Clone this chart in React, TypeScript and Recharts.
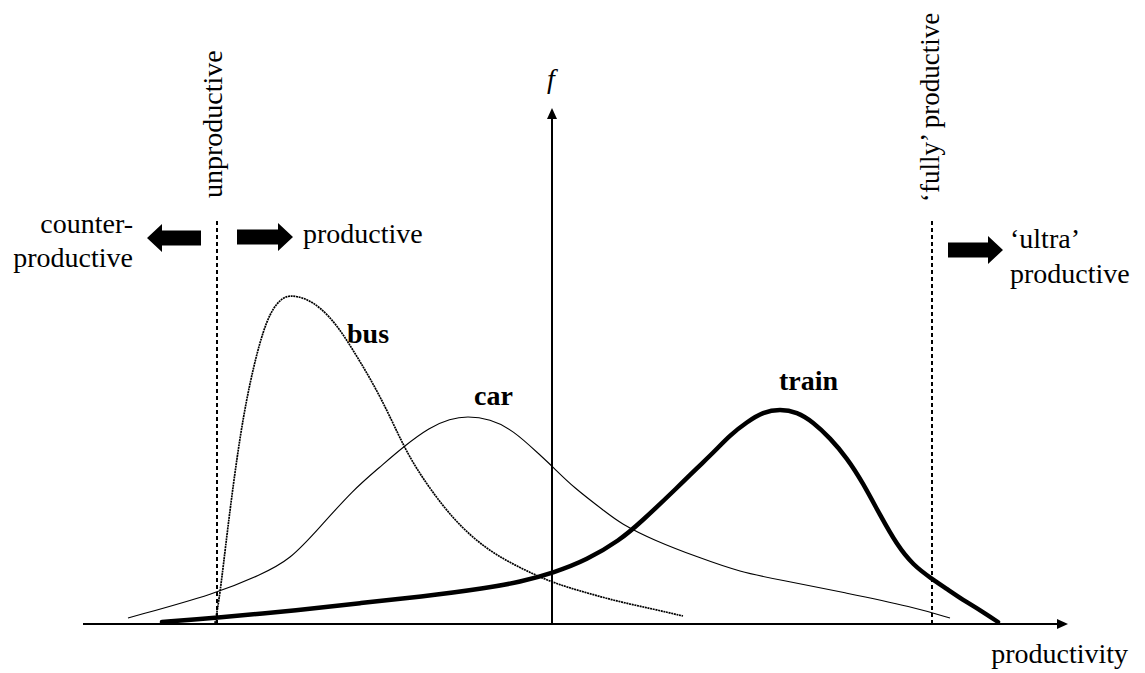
import React from "react";
import { LineChart, Line, XAxis, YAxis, ReferenceLine, ReferenceDot } from "recharts";

// productivity (p, relative to the f axis) against frequency f
const busPoints = [
  { p: -3.37, f: 0.01 }, { p: -3.32, f: 0.29 }, { p: -3.25, f: 0.91 }, { p: -3.12, f: 1.91 },
  { p: -2.99, f: 2.57 }, { p: -2.85, f: 3.07 }, { p: -2.72, f: 3.25 }, { p: -2.62, f: 3.29 },
  { p: -2.47, f: 3.26 }, { p: -2.32, f: 3.17 }, { p: -2.15, f: 2.99 }, { p: -1.99, f: 2.74 },
  { p: -1.82, f: 2.46 }, { p: -1.65, f: 2.14 }, { p: -1.49, f: 1.79 }, { p: -1.32, f: 1.49 },
  { p: -0.99, f: 1.04 }, { p: -0.65, f: 0.74 }, { p: -0.32, f: 0.56 }, { p: 0.01, f: 0.41 },
  { p: 0.35, f: 0.31 }, { p: 0.68, f: 0.22 }, { p: 1.01, f: 0.15 }, { p: 1.31, f: 0.08 },
];

const carPoints = [
  { p: -4.24, f: 0.06 }, { p: -3.34, f: 0.31 }, { p: -2.92, f: 0.49 }, { p: -2.62, f: 0.64 },
  { p: -2.32, f: 0.97 }, { p: -1.99, f: 1.34 }, { p: -1.72, f: 1.57 }, { p: -1.49, f: 1.77 },
  { p: -1.22, f: 1.97 }, { p: -1.02, f: 2.05 }, { p: -0.85, f: 2.08 }, { p: -0.62, f: 2.05 },
  { p: -0.39, f: 1.94 }, { p: -0.12, f: 1.69 }, { p: 0.01, f: 1.57 }, { p: 0.21, f: 1.37 },
  { p: 0.55, f: 1.11 }, { p: 0.68, f: 1.01 }, { p: 1.01, f: 0.84 }, { p: 1.48, f: 0.66 },
  { p: 1.88, f: 0.52 }, { p: 2.28, f: 0.44 }, { p: 2.95, f: 0.31 }, { p: 3.61, f: 0.17 },
  { p: 3.98, f: 0.06 },
];

const trainPoints = [
  { p: -3.9, f: 0.02 }, { p: -3.36, f: 0.06 }, { p: -2.52, f: 0.14 }, { p: -1.92, f: 0.21 },
  { p: -1.32, f: 0.27 }, { p: -0.65, f: 0.36 }, { p: -0.32, f: 0.42 }, { p: 0.01, f: 0.51 },
  { p: 0.35, f: 0.64 }, { p: 0.68, f: 0.84 }, { p: 0.88, f: 1.01 }, { p: 1.28, f: 1.39 },
  { p: 1.45, f: 1.56 }, { p: 1.61, f: 1.71 }, { p: 1.78, f: 1.89 }, { p: 1.95, f: 2.02 },
  { p: 2.11, f: 2.12 }, { p: 2.28, f: 2.15 }, { p: 2.45, f: 2.12 }, { p: 2.61, f: 2.02 },
  { p: 2.78, f: 1.86 }, { p: 2.95, f: 1.66 }, { p: 3.11, f: 1.41 }, { p: 3.28, f: 1.09 },
  { p: 3.45, f: 0.79 }, { p: 3.61, f: 0.59 }, { p: 3.8, f: 0.45 }, { p: 3.95, f: 0.35 },
  { p: 4.11, f: 0.24 }, { p: 4.28, f: 0.14 }, { p: 4.46, f: 0.02 },
];

const unproductiveAt = -3.35;
const fullyProductiveAt = 3.8;
const thresholdTop = 4.06;

function AxisArrow(props: any) {
  const { x1, y1, x2, y2 } = props;
  const len = 11;
  const half = 5;
  const dx = x2 - x1;
  const dy = y2 - y1;
  const d = Math.hypot(dx, dy) || 1;
  const ux = dx / d;
  const uy = dy / d;
  const bx = x2 - ux * len;
  const by = y2 - uy * len;
  return (
    <g>
      <line x1={x1} y1={y1} x2={bx} y2={by} stroke="#000" strokeWidth={2} />
      <polygon
        points={`${x2},${y2} ${bx - uy * half},${by + ux * half} ${bx + uy * half},${by - ux * half}`}
        fill="#000"
      />
    </g>
  );
}

function BlockArrow(props: any) {
  const { x1, y1, x2 } = props;
  const dir = x2 > x1 ? 1 : -1;
  const h = 7.5;
  const H = 14;
  const L = 15;
  const hx = x2 - dir * L;
  const y = y1;
  return (
    <polygon
      points={`${x1},${y - h} ${hx},${y - h} ${hx},${y - H} ${x2},${y} ${hx},${y + H} ${hx},${y + h} ${x1},${y + h}`}
      fill="#000"
    />
  );
}

// plain serif label; only set weight / style attributes when they are needed
function label(
  text: string,
  opts: { anchor?: string; bold?: boolean; italic?: boolean; rotate?: boolean; size?: number } = {}
) {
  return (p: any) => {
    const extra: any = {};
    if (opts.anchor) extra.textAnchor = opts.anchor;
    if (opts.rotate) extra.transform = `rotate(-90 ${p.cx} ${p.cy})`;
    if (opts.bold) extra.fontWeight = "bold";
    if (opts.italic) extra.fontStyle = "italic";
    return (
      <text x={p.cx} y={p.cy} fontFamily="Liberation Serif" fontSize={opts.size || 28} fill="#000" {...extra}>
        {text}
      </text>
    );
  };
}

export default function App() {
  return (
    <div style={{ width: 1145, height: 673, background: "#fff" }}>
      <style>{"body{margin:0;background:#fff}"}</style>
      <LineChart width={1145} height={673} margin={{ top: 0, right: 0, bottom: 49, left: 0 }}>
        <XAxis dataKey="p" type="number" domain={[-5.52, 5.93]} hide allowDataOverflow />
        <YAxis type="number" domain={[0, 6.24]} hide allowDataOverflow />

        <ReferenceLine
          segment={[{ x: -4.69, y: 0 }, { x: 5.16, y: 0 }]}
          ifOverflow="visible"
          shape={AxisArrow}
        />
        <ReferenceLine
          segment={[{ x: 0, y: 0 }, { x: 0, y: 5.16 }]}
          ifOverflow="visible"
          shape={AxisArrow}
        />
        <ReferenceLine
          segment={[{ x: unproductiveAt, y: 0 }, { x: unproductiveAt, y: thresholdTop }]}
          stroke="#000"
          strokeWidth={2}
          strokeDasharray="4 3"
          ifOverflow="visible"
        />
        <ReferenceLine
          segment={[{ x: fullyProductiveAt, y: 0 }, { x: fullyProductiveAt, y: thresholdTop }]}
          stroke="#000"
          strokeWidth={2}
          strokeDasharray="4 3"
          ifOverflow="visible"
        />

        <ReferenceLine segment={[{ x: -3.51, y: 3.86 }, { x: -4.05, y: 3.86 }]} ifOverflow="visible" shape={BlockArrow} />
        <ReferenceLine segment={[{ x: -3.15, y: 3.87 }, { x: -2.59, y: 3.87 }]} ifOverflow="visible" shape={BlockArrow} />
        <ReferenceLine segment={[{ x: 3.96, y: 3.74 }, { x: 4.51, y: 3.74 }]} ifOverflow="visible" shape={BlockArrow} />

        <Line
          data={carPoints}
          dataKey="f"
          type="basis"
          stroke="#000"
          strokeWidth={1.1}
          dot={false}
          activeDot={false}
          isAnimationActive={false}
        />
        <Line
          data={busPoints}
          dataKey="f"
          type="basis"
          stroke="#000"
          strokeWidth={1.7}
          strokeDasharray="2 0.7"
          dot={false}
          activeDot={false}
          isAnimationActive={false}
        />
        <Line
          data={trainPoints}
          dataKey="f"
          type="basis"
          stroke="#000"
          strokeWidth={4.5}
          strokeLinecap="round"
          dot={false}
          activeDot={false}
          isAnimationActive={false}
        />

        <ReferenceDot x={-4.19} y={3.91} r={0} ifOverflow="visible" shape={label("counter-", { anchor: "end" })} />
        <ReferenceDot x={-4.19} y={3.57} r={0} ifOverflow="visible" shape={label("productive", { anchor: "end" })} />
        <ReferenceDot x={-2.49} y={3.81} r={0} ifOverflow="visible" shape={label("productive")} />
        <ReferenceDot x={-3.3} y={4.26} r={0} ifOverflow="visible" shape={label("unproductive", { rotate: true })} />
        <ReferenceDot x={3.87} y={4.22} r={0} ifOverflow="visible" shape={label("\u2018fully\u2019 productive", { rotate: true, size: 27 })} />
        <ReferenceDot x={4.58} y={3.76} r={0} ifOverflow="visible" shape={label("\u2018ultra\u2019")} />
        <ReferenceDot x={4.58} y={3.41} r={0} ifOverflow="visible" shape={label("productive")} />
        <ReferenceDot x={-2.05} y={2.81} r={0} ifOverflow="visible" shape={label("bus", { bold: true })} />
        <ReferenceDot x={-0.78} y={2.19} r={0} ifOverflow="visible" shape={label("car", { bold: true })} />
        <ReferenceDot x={2.27} y={2.34} r={0} ifOverflow="visible" shape={label("train", { bold: true })} />
        <ReferenceDot x={-0.01} y={5.36} r={0} ifOverflow="visible" shape={label("f", { anchor: "middle", italic: true })} />
        <ReferenceDot x={5.76} y={-0.39} r={0} ifOverflow="visible" shape={label("productivity", { anchor: "end" })} />
      </LineChart>
    </div>
  );
}
